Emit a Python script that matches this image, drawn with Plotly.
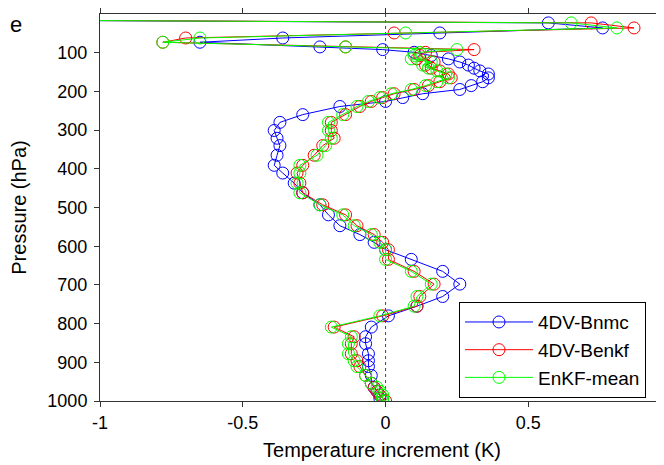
import plotly.graph_objects as go

# Pressure levels (hPa), shared by all series
pressure = [15, 23, 36, 49, 62, 73, 85, 92, 99, 107, 116, 124, 132, 140, 147, 155,
            165, 175, 185, 195, 206, 216, 226, 239, 260, 280, 301, 321, 340, 365,
            391, 411, 437, 462, 493, 519, 547, 570, 590, 609, 634, 665, 698, 730,
            755, 780, 809, 834, 852, 878, 896, 911, 934, 954, 965, 975, 985, 993, 1000]

bnmc = [-1.6, 0.57, 0.76, 0.19, -0.36, -0.65, -0.23, -0.01, 0.10, 0.16, 0.22, 0.26, 0.29, 0.31, 0.33, 0.36,
        0.36, 0.34, 0.30, 0.26, 0.13, 0.06, 0.00, -0.16, -0.29, -0.37, -0.39, -0.38, -0.37, -0.38,
        -0.39, -0.36, -0.32, -0.29, -0.23, -0.20, -0.16, -0.09, -0.04, 0.00, 0.09, 0.20, 0.26, 0.20,
        0.11, 0.01, -0.05, -0.07, -0.07, -0.06, -0.06, -0.06, -0.05, -0.05, -0.04, -0.03, -0.02, -0.02, -0.01]

benkf = [-1.5, 0.72, 0.87, 0.03, -0.70, -0.78, -0.14, 0.31, 0.14, 0.12, 0.11, 0.17, 0.14, 0.16, 0.19, 0.22,
         0.23, 0.19, 0.15, 0.10, 0.03, -0.01, -0.05, -0.09, -0.14, -0.19, -0.19, -0.18, -0.22, -0.25,
         -0.29, -0.31, -0.30, -0.29, -0.22, -0.14, -0.10, -0.04, -0.01, 0.01, 0.01, 0.10, 0.17, 0.12,
         0.11, -0.01, -0.18, -0.11, -0.12, -0.12, -0.10, -0.09, -0.07, -0.05, -0.04, -0.03, -0.02, -0.01, 0.00]

enkf = [-1.55, 0.65, 0.81, 0.07, -0.65, -0.78, -0.14, 0.25, 0.12, 0.10, 0.09, 0.16, 0.13, 0.15, 0.18, 0.21,
        0.22, 0.18, 0.14, 0.09, 0.02, -0.02, -0.06, -0.10, -0.15, -0.20, -0.20, -0.19, -0.21, -0.24,
        -0.30, -0.30, -0.31, -0.30, -0.23, -0.15, -0.11, -0.05, -0.02, 0.00, 0.00, 0.09, 0.16, 0.11,
        0.10, -0.02, -0.19, -0.12, -0.13, -0.13, -0.11, -0.10, -0.07, -0.05, -0.03, -0.02, -0.01, -0.01, -0.01]

series = [("4DV-Bnmc", bnmc, "#0000FF"),
          ("4DV-Benkf", benkf, "#FF0000"),
          ("EnKF-mean", enkf, "#00FF00")]

xticks = [-1, -0.5, 0, 0.5]
xticktext = ["-1", "-0.5", "0", "0.5"]
yticks = [100, 200, 300, 400, 500, 600, 700, 800, 900, 1000]

FONT = "Liberation Sans, Arial, Helvetica, sans-serif"

fig = go.Figure()
for name, vals, col in series:
    fig.add_trace(go.Scatter(
        x=vals, y=pressure, name=name, mode="lines+markers",
        line=dict(color=col, width=1),
        marker=dict(symbol="circle-open", size=12, color=col, line=dict(width=1, color=col)),
        cliponaxis=True,
    ))

# dotted zero line
fig.add_shape(type="line", x0=0, x1=0, y0=0, y1=1, xref="x", yref="paper",
              line=dict(color="#444444", width=1, dash="dot"), layer="below")

# panel label (partly off the left edge in the original; kept visible here)
fig.add_annotation(text="e", x=(0 - 92) / 564, y=(393 - 16) / 387.5, xref="paper", yref="paper",
                   showarrow=False, xanchor="left", yanchor="middle",
                   font=dict(size=22, color="black", family=FONT))

axis_common = dict(showline=True, linecolor="#333333", linewidth=1, mirror="ticks",
                   ticks="outside", ticklen=5, tickcolor="#333333", showgrid=False,
                   zeroline=False, automargin=False,
                   tickfont=dict(size=18, color="black", family=FONT))

fig.update_layout(
    width=664, height=465,
    margin=dict(l=92, r=8, t=6, b=72, autoexpand=False),
    paper_bgcolor="white", plot_bgcolor="white",
    font=dict(family=FONT, color="black", size=18),
    xaxis=dict(range=[-1, 0.975], tickvals=xticks, ticktext=xticktext,
               title=dict(text="Temperature increment (K)", font=dict(size=20), standoff=11),
               **axis_common),
    yaxis=dict(range=[1000, 0], tickvals=yticks, ticklabelstandoff=3,
               title=dict(text="Pressure (hPa)", font=dict(size=20), standoff=22),
               **axis_common),
    legend=dict(x=(451 - 92) / 564, y=(393 - 294) / 387.5, xanchor="left", yanchor="top",
                bordercolor="black", borderwidth=1, bgcolor="white", itemwidth=68,
                font=dict(size=19, color="black", family=FONT)),
    showlegend=True,
)

fig.write_html("out.html")
